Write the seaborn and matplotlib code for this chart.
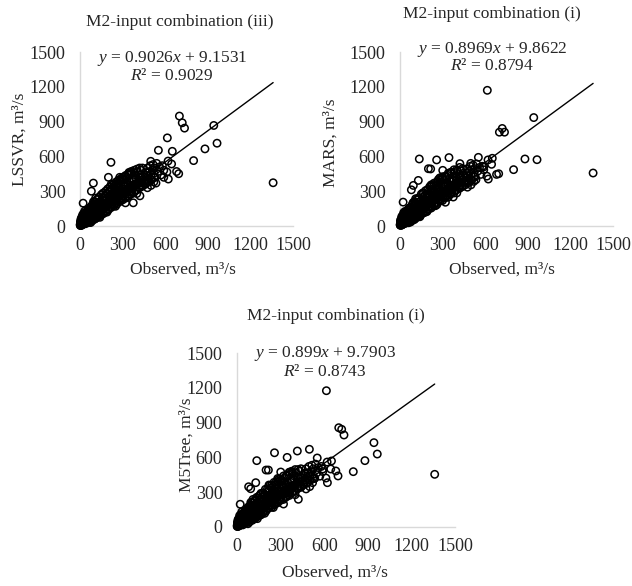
import numpy as np
import pandas as pd
import matplotlib
matplotlib.use("Agg")
import matplotlib.pyplot as plt
import seaborn as sns

# observed discharge (m3/s), shared by the three models
observed = [
    # low flows
    1, 2, 3, 4, 5, 6, 7, 8, 9, 10, 11, 12, 13, 14, 15, 16, 17, 18, 19, 20,
    22, 24, 25, 27, 28, 30, 31, 33, 35, 36, 38, 40, 41, 43, 45, 46, 48, 50, 51, 53,
    55, 56, 58, 60, 3, 7, 12, 18, 26, 34,
    62, 64, 66, 68, 70, 72, 74, 76, 78, 80, 82, 84, 86, 88, 90, 92, 94, 96, 98, 100,
    103, 106, 109, 112, 115, 118, 121, 124, 127, 130, 133, 136, 139, 142, 145, 148, 150, 65, 85, 105,
    125, 140, 95, 115, 135, 75, 110, 130, 145, 120,
    # medium flows
    152, 155, 158, 161, 164, 167, 170, 173, 176, 179, 182, 185, 188, 191, 194, 197, 200, 203, 206, 209,
    212, 215, 218, 221, 224, 227, 230, 233, 236, 239, 242, 245, 248, 251, 254, 257, 260, 263, 266, 269,
    272, 275, 278, 281, 284, 287, 290, 293, 296, 300, 160, 190, 220, 250, 280, 170, 200, 230, 260, 290,
    303, 306, 309, 312, 315, 318, 321, 324, 327, 330, 333, 336, 339, 342, 345, 348, 351, 354, 357, 360,
    365, 370, 375, 380, 385, 390, 395, 400, 405, 410, 415, 420, 425, 430, 435, 440, 445, 450, 320, 360,
    400, 440, 340, 380, 420, 310, 350, 390, 430, 370,
    455, 460, 465, 470, 475, 480, 485, 490, 495, 500, 505, 510, 515, 520, 525, 530, 540, 550, 560, 570,
    580, 590, 475, 500, 520,
    30, 45, 60, 75, 90, 105, 120, 135, 150, 165, 180, 195, 210, 225, 240, 255, 270, 285, 300, 320,
    340, 360, 380, 400, 420,
    40, 60, 80, 100, 120, 140, 160, 180, 200, 220, 240, 260, 280, 300, 320, 340, 360, 380, 400, 420,
    440, 460, 480, 500, 520,
    15, 25, 35, 45, 55, 65, 75, 85, 95, 105, 115, 125, 135, 145, 155, 165, 175, 185, 195, 205,
    215, 225, 235, 245, 255, 265, 275, 285, 295, 305, 315, 325, 335, 345, 355, 365, 375, 385, 395, 405,
    # high flows / scattered points
    700, 720, 736, 942, 615, 965, 880, 800, 695, 622, 1360, 650, 645, 552, 612, 535, 218, 94, 22, 80,
    345, 498, 680, 422, 375, 200, 136, 258, 415, 216, 301, 129, 620, 590,
]

lssvr = [
    8, 15, 4, 22, 10, 30, 5, 18, 38, 12, 25, 45, 8, 30, 55, 14, 36, 62, 20, 40,
    70, 16, 48, 85, 22, 55, 95, 28, 62, 100, 30, 70, 110, 35, 75, 120, 38, 82, 130, 42,
    88, 140, 45, 95, 40, 60, 75, 95, 110, 130,
    70, 110, 40, 150, 85, 55, 120, 95, 160, 60, 100, 135, 75, 180, 110, 65, 140, 90, 170, 120,
    80, 150, 105, 190, 70, 130, 160, 95, 200, 125, 85, 170, 140, 105, 210, 130, 165, 130, 45, 60,
    230, 75, 210, 175, 110, 30, 240, 180, 100, 140,
    120, 200, 150, 240, 175, 110, 220, 160, 260, 190, 130, 230, 175, 280, 205, 150, 250, 190, 300, 215,
    160, 270, 210, 320, 235, 175, 280, 225, 340, 250, 190, 300, 240, 350, 265, 205, 310, 255, 370, 280,
    215, 330, 265, 385, 290, 225, 340, 280, 400, 300, 280, 120, 360, 170, 420, 195, 210, 260, 230, 310,
    240, 320, 285, 400, 300, 250, 350, 290, 420, 320, 260, 370, 310, 440, 330, 275, 380, 320, 450, 345,
    290, 395, 340, 460, 360, 310, 410, 360, 470, 380, 330, 420, 370, 480, 395, 345, 430, 390, 200, 470,
    280, 500, 350, 400, 350, 360, 300, 440, 420, 330,
    420, 370, 460, 410, 500, 430, 380, 470, 520, 440, 400, 480, 530, 455, 500, 420, 540, 470, 510, 440,
    520, 480, 330, 350, 380,
    85, 110, 140, 165, 190, 210, 230, 250, 270, 285, 300, 320, 335, 350, 365, 380, 395, 405, 420, 435,
    450, 465, 480, 490, 500,
    20, 30, 45, 60, 75, 90, 105, 125, 140, 160, 175, 190, 210, 225, 240, 255, 275, 290, 310, 330,
    345, 360, 380, 400, 420,
    25, 30, 45, 50, 62, 70, 80, 88, 98, 105, 115, 125, 130, 140, 150, 160, 165, 175, 185, 195,
    205, 210, 220, 230, 240, 245, 255, 265, 275, 285, 290, 300, 310, 320, 330, 335, 345, 355, 365, 370,
    948, 890, 844, 867, 760, 714, 665, 564, 451, 405, 373, 644, 535, 653, 466, 370, 549, 370, 197, 300,
    462, 558, 470, 260, 200, 420, 150, 290, 380, 220, 260, 180, 560, 420,
]

mars = [
    10, 12, 6, 20, 14, 28, 6, 22, 35, 15, 22, 48, 10, 28, 58, 12, 40, 60, 24, 38,
    72, 18, 45, 90, 20, 58, 92, 30, 60, 105, 28, 72, 115, 33, 78, 118, 40, 80, 135, 40,
    92, 138, 48, 98, 45, 58, 80, 90, 115, 125,
    72, 105, 45, 155, 82, 58, 125, 92, 165, 58, 105, 130, 78, 185, 105, 68, 145, 88, 175, 115,
    82, 155, 100, 195, 72, 135, 155, 98, 205, 120, 88, 165, 145, 100, 215, 125, 170, 135, 48, 62,
    225, 80, 205, 180, 105, 35, 235, 185, 95, 145,
    125, 195, 155, 245, 170, 115, 225, 155, 265, 185, 135, 225, 180, 275, 210, 145, 255, 185, 305, 210,
    165, 265, 215, 315, 240, 170, 285, 220, 345, 245, 195, 295, 245, 345, 270, 200, 315, 250, 375, 275,
    220, 325, 270, 380, 295, 220, 345, 275, 405, 295, 285, 125, 355, 175, 415, 200, 215, 255, 235, 305,
    245, 315, 290, 395, 305, 245, 355, 285, 425, 315, 265, 365, 315, 435, 335, 270, 385, 315, 455, 340,
    295, 390, 345, 455, 365, 305, 415, 355, 475, 375, 335, 415, 375, 475, 400, 340, 435, 385, 205, 465,
    285, 495, 355, 395, 355, 355, 305, 435, 425, 335,
    415, 375, 455, 415, 495, 435, 375, 475, 515, 445, 395, 485, 525, 460, 495, 425, 535, 475, 505, 445,
    515, 485, 335, 355, 385,
    90, 105, 145, 160, 195, 205, 235, 245, 275, 280, 305, 315, 340, 345, 370, 375, 400, 400, 425, 430,
    455, 460, 485, 485, 505,
    25, 28, 50, 55, 80, 85, 110, 120, 145, 155, 180, 185, 215, 220, 245, 250, 280, 285, 315, 325,
    350, 355, 385, 395, 425,
    28, 28, 48, 48, 65, 68, 83, 86, 101, 103, 118, 123, 133, 138, 153, 158, 168, 173, 188, 193,
    208, 208, 223, 228, 243, 243, 258, 263, 278, 283, 293, 298, 313, 318, 333, 333, 348, 353, 368, 368,
    809, 841, 809, 935, 1170, 572, 578, 486, 451, 405, 457, 584, 532, 592, 430, 400, 300, 350, 206, 312,
    590, 540, 445, 538, 250, 494, 578, 570, 420, 492, 480, 393, 570, 510,
]

m5tree = [
    6, 16, 5, 24, 9, 32, 6, 16, 40, 10, 27, 44, 9, 32, 52, 15, 34, 65, 18, 42,
    68, 17, 50, 82, 24, 52, 98, 26, 65, 96, 32, 68, 112, 36, 72, 122, 36, 85, 128, 44,
    86, 142, 44, 92, 42, 62, 72, 98, 108, 132,
    68, 112, 42, 148, 88, 52, 118, 98, 158, 62, 98, 138, 72, 178, 112, 62, 138, 92, 168, 122,
    78, 148, 108, 188, 68, 128, 162, 92, 198, 128, 82, 172, 138, 108, 208, 132, 162, 128, 42, 58,
    232, 72, 212, 172, 112, 28, 238, 178, 102, 138,
    118, 205, 148, 238, 178, 108, 218, 162, 258, 192, 128, 232, 172, 282, 202, 152, 248, 192, 298, 218,
    158, 272, 208, 322, 232, 178, 278, 228, 338, 252, 188, 302, 238, 352, 262, 208, 308, 258, 368, 282,
    212, 332, 262, 388, 288, 228, 338, 282, 398, 302, 278, 118, 362, 168, 418, 192, 208, 262, 228, 312,
    238, 322, 282, 402, 298, 252, 348, 292, 418, 322, 258, 372, 308, 442, 328, 278, 378, 322, 448, 348,
    288, 398, 338, 462, 358, 312, 408, 362, 468, 382, 328, 422, 368, 482, 392, 348, 428, 392, 198, 472,
    278, 502, 348, 402, 348, 362, 298, 442, 418, 332,
    422, 368, 462, 408, 502, 428, 382, 468, 522, 438, 402, 478, 532, 452, 502, 418, 542, 468, 512, 438,
    522, 478, 328, 348, 382,
    80, 115, 135, 170, 185, 215, 225, 255, 265, 290, 295, 325, 330, 355, 360, 385, 390, 410, 415, 440,
    445, 470, 475, 495, 495,
    18, 35, 42, 65, 72, 95, 102, 130, 138, 165, 172, 195, 208, 230, 238, 260, 272, 295, 308, 335,
    342, 365, 378, 405, 418,
    22, 33, 42, 53, 59, 73, 77, 91, 95, 108, 112, 128, 127, 143, 147, 163, 162, 178, 182, 198,
    202, 213, 217, 233, 237, 248, 252, 268, 272, 288, 287, 303, 307, 323, 327, 338, 342, 358, 362, 373,
    856, 842, 793, 727, 1175, 629, 572, 477, 440, 382, 454, 569, 500, 595, 422, 420, 250, 330, 196, 347,
    600, 670, 483, 239, 480, 491, 572, 640, 655, 491, 474, 382, 560, 500,
]

models = ["LSSVR", "MARS", "M5Tree"]
titles = ["M2-input combination (iii)", "M2-input combination (i)", "M2-input combination (i)"]
slopes = [0.9026, 0.8969, 0.899]
intercepts = [9.1531, 9.8622, 9.7903]
r2_values = [0.9029, 0.8794, 0.8743]
ticks = [0, 300, 600, 900, 1200, 1500]

df = pd.DataFrame({"Observed": observed, "LSSVR": lssvr, "MARS": mars, "M5Tree": m5tree})

sns.set_style("white")
plt.rcParams["font.family"] = ["Liberation Serif", "DejaVu Serif"]
plt.rcParams["mathtext.fontset"] = "custom"
plt.rcParams["mathtext.rm"] = "Liberation Serif"
plt.rcParams["mathtext.it"] = "Liberation Serif:italic"
fs = 12.5

fig = plt.figure(figsize=(6.32, 5.86), dpi=100)

# panel layout (figure fractions) and text placement
positions = [[0.1266, 0.6143, 0.337, 0.2969],
             [0.6329, 0.6143, 0.337, 0.2969],
             [0.375, 0.1007, 0.345, 0.2969]]
title_xy = [(0.47, 1.17), (0.43, 1.22), (0.454, 1.21)]
eq_xy = [(648, 1440, 1292), (648, 1526, 1379), (606, 1500, 1339)]
ylabel_xy = [(-0.245, 0.5), (-0.29, 0.48), (-0.195, 0.47)]
xlabel_xy = [(0.484, -0.205), (0.48, -0.205), (0.45, -0.215)]

for i, model in enumerate(models):
    ax = fig.add_axes(positions[i])
    sns.scatterplot(data=df, x="Observed", y=model, ax=ax, marker="o", s=28,
                    facecolor="none", edgecolor="black", linewidth=1.1,
                    clip_on=False, legend=False, zorder=3)

    # linear trend line over the range of observed values
    xs = np.array([0, df["Observed"].max()])
    ax.plot(xs, slopes[i] * xs + intercepts[i], color="black", lw=1.0, zorder=4)

    ax.set_xlim(0, 1500)
    ax.set_ylim(0, 1500)
    ax.set_xticks(ticks)
    ax.set_yticks(ticks)
    ax.tick_params(axis="x", length=0, pad=8, labelsize=13)
    ax.tick_params(axis="y", length=0, pad=10.5, labelsize=13)
    for side in ["top", "right"]:
        ax.spines[side].set_visible(False)
    for side in ["left", "bottom"]:
        ax.spines[side].set_color("#d9d9d9")
        ax.spines[side].set_linewidth(1.0)

    ax.set_xlabel("Observed, m³/s", fontsize=fs)
    ax.set_ylabel(model + ", m³/s", fontsize=fs)
    ax.xaxis.set_label_coords(*xlabel_xy[i])
    ax.yaxis.set_label_coords(*ylabel_xy[i])

    ax.text(title_xy[i][0], title_xy[i][1], titles[i], transform=ax.transAxes,
            ha="center", va="center", fontsize=fs)
    ax.text(eq_xy[i][0], eq_xy[i][1], f"$y$ = {slopes[i]}$x$ + {intercepts[i]}",
            ha="center", va="center", fontsize=fs)
    ax.text(eq_xy[i][0], eq_xy[i][2], f"$R$² = {r2_values[i]}",
            ha="center", va="center", fontsize=fs)

fig.savefig("out.png", dpi=100)
